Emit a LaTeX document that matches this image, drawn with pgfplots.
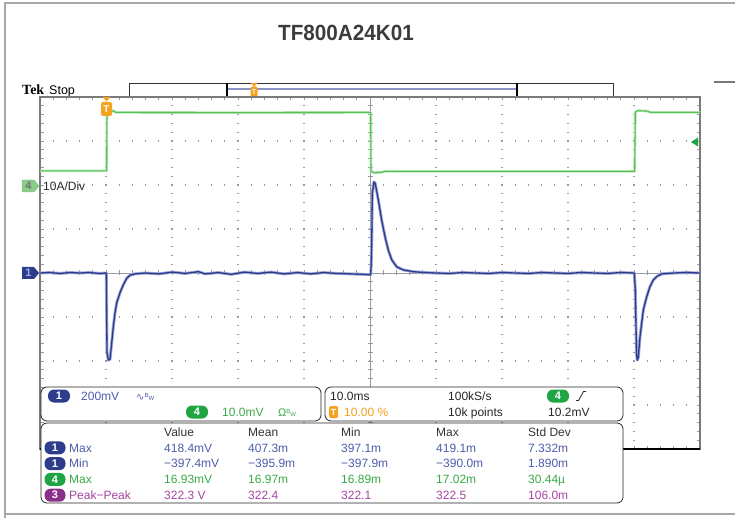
\documentclass[border=0pt]{standalone}
\usepackage{fontspec}
\setmainfont{Liberation Sans}
\newfontfamily\tekserif{Liberation Serif}
\newfontfamily\dejavu{DejaVu Sans}
\newfontfamily\titlefont{Liberation Sans}[FakeStretch=0.94]
\usepackage{pgfplots}
\usepackage{pgfplotstable}
\pgfplotsset{compat=1.18}

\definecolor{chone}{HTML}{2E3C8C}
\definecolor{chonetext}{HTML}{4F5DAA}
\definecolor{chfour}{HTML}{1FA544}
\definecolor{chfourtext}{HTML}{3AAA48}
\definecolor{chfourmark}{HTML}{8CCB8A}
\definecolor{chthree}{HTML}{8B2F8B}
\definecolor{chthreetext}{HTML}{A645A2}
\definecolor{trig}{HTML}{F6A21E}
\definecolor{bluetrace}{HTML}{2C3A8C}
\definecolor{bluehalo}{HTML}{A0AAD8}
\definecolor{greentrace}{HTML}{55C255}
\definecolor{greenhalo}{HTML}{B8E6B5}
\definecolor{gridgray}{HTML}{9A9A9A}
\definecolor{bordergray}{HTML}{7A7A7A}
\definecolor{framegray}{HTML}{A8A8A8}
\definecolor{titlegray}{HTML}{3C3C3C}
\definecolor{recblue}{HTML}{8A93C6}

% channel 1, divisions vs ms
\pgfplotstableread{
x y
0 0.00
1.5 0.01
3 -0.01
4.5 0.01
6 0.00
7.5 0.01
9 -0.01
10.05 0.00
10.15 -1.80
10.35 -1.98
10.61 -1.96
10.86 -1.59
11.11 -1.22
11.36 -0.91
11.62 -0.68
12.12 -0.45
12.62 -0.27
13.14 -0.12
13.64 -0.05
14.4 -0.02
16 0.00
18 -0.02
20 0.02
22 -0.01
24 0.03
25 -0.02
27 0.01
29 -0.03
31 0.02
33 -0.01
35 0.02
37 -0.02
39 0.01
41 -0.02
43 0.01
45 -0.01
47 -0.02
49 -0.03
50.1 -0.04
50.18 0.20
50.26 0.68
50.35 1.82
50.6 2.07
50.8 2.03
51.26 1.66
51.77 1.20
52.27 0.83
52.77 0.52
53.29 0.30
54.05 0.14
55.05 0.07
56.56 0.03
58.3 0.01
60 0.00
62 -0.01
64 0.01
66 0.00
68 -0.01
70 0.01
72 0.00
74 -0.01
76 0.01
78 0.00
80 -0.01
82 0.01
84 0.00
86 -0.01
88 0.01
90.05 0.00
90.2 -0.40
90.38 -1.85
90.5 -1.98
90.65 -1.92
90.91 -1.45
91.41 -0.84
91.92 -0.54
92.42 -0.31
92.92 -0.16
93.44 -0.08
94.2 -0.02
96 0.00
98 0.01
100 0.00
}\bluedata

% channel 4
\pgfplotstableread{
x y
0 2.32
10.1 2.32
10.15 3.66
10.5 3.69
11.2 3.68
11.5 3.65
30 3.645
50.1 3.65
50.15 2.31
50.6 2.28
51.8 2.29
52.3 2.31
90.1 2.31
90.2 3.66
90.6 3.69
92.0 3.68
92.5 3.65
100 3.65
}\greendata

\tikzset{
  pill/.style={rounded corners=6pt, minimum width=22pt, minimum height=13pt,
    inner sep=0pt, text=white, font=\fontsize{11}{11}\selectfont\bfseries},
  tt/.style={anchor=base west, inner sep=0pt, font=\fontsize{12}{12}\selectfont},
}

\begin{document}
\begin{tikzpicture}
\useasboundingbox (0,0) rectangle (735pt,517pt);
\clip (0,0) rectangle (735pt,517pt);

\begin{scope}[x=1pt,y=-1pt,yshift=517pt]
  % outer frame
  \draw[framegray, line width=1.5pt] (5,530) -- (5,3) -- (750,3);
  \draw[framegray, line width=1.5pt] (5,514) -- (750,514);
  % title
  \node[font=\titlefont\bfseries\fontsize{22}{22}\selectfont, text=titlegray] at (346,33) {TF800A24K01};
  % Tek Stop
  \node[anchor=base west, inner sep=0pt, font=\tekserif\bfseries\fontsize{14}{14}\selectfont] at (22,95) {Tek};
  \node[anchor=base west, inner sep=0pt, font=\fontsize{12.5}{12.5}\selectfont] at (49,95) {Stop};
  % record bar
  \draw[black!80, line width=0.9pt, fill=white] (129,83) rectangle (613,97);
  \draw[recblue, line width=1.6pt] (228,89) -- (516,89);
  \draw[black, line width=1.6pt] (227,83) -- (227,97) (517,83) -- (517,97);
  \fill[trig] (250.5,83) -- (257.5,83) -- (254,86.5) -- cycle;
  \fill[trig, rounded corners=1.5pt] (250.5,86.5) rectangle (257.5,97);
  \node[text=white, font=\bfseries\fontsize{7}{7}\selectfont, inner sep=0pt] at (254,92) {T};
  \draw[bordergray, line width=1.5pt] (714,82) -- (735,82);

  % graticule
  \foreach \k in {1,2,3,5,6,7}
    \draw[gridgray, line width=1.3pt, dash pattern=on 1.3pt off 11.9pt, dash phase=0.65pt]
      (40,97+44*\k) -- (700,97+44*\k);
  \foreach \k in {1,2,3,4,6,7,8,9}
    \draw[gridgray, line width=1.3pt, dash pattern=on 1.3pt off 7.5pt, dash phase=0.65pt]
      (40+66*\k,97) -- (40+66*\k,449);
  \draw[gridgray, line width=0.9pt] (40,273) -- (700,273) (370,97) -- (370,449);
  \foreach \i in {1,...,49} {
    \draw[gridgray, line width=0.8pt] (40+13.2*\i,270.5) -- (40+13.2*\i,275.5);
    \draw[gridgray, line width=0.8pt] (40+13.2*\i,97) -- (40+13.2*\i,100.5);
    \draw[gridgray, line width=0.8pt] (40+13.2*\i,449) -- (40+13.2*\i,445.5);
  }
  \foreach \j in {1,...,39} {
    \draw[gridgray, line width=0.8pt] (367.5,97+8.8*\j) -- (372.5,97+8.8*\j);
    \draw[gridgray, line width=0.8pt] (40,97+8.8*\j) -- (43.5,97+8.8*\j);
    \draw[gridgray, line width=0.8pt] (700,97+8.8*\j) -- (696.5,97+8.8*\j);
  }
  \draw[bordergray, line width=1.3pt] (40,97) rectangle (700,449);
  \draw[black, line width=2.2pt] (40,449) -- (700,449);
\end{scope}

\begin{axis}[at={(40pt,68pt)}, anchor=south west, scale only axis,
    width=660pt, height=352pt, xmin=0, xmax=100, ymin=-4, ymax=4,
    hide axis, clip=false]
  \addplot[greenhalo, line width=2.6pt, line join=round] table {\greendata};
  \addplot[greentrace, line width=1.1pt, line join=round] table {\greendata};
  \addplot[bluehalo, line width=3pt, line join=round] table {\bluedata};
  \addplot[bluetrace, line width=1.3pt, line join=round] table {\bluedata};
\end{axis}

\begin{scope}[x=1pt,y=-1pt,yshift=517pt]
  % channel markers
  \fill[fill=chfourmark, draw=chfourtext!70] (22,180) -- (34,180) -- (39,186) -- (34,192) -- (22,192) -- cycle;
  \node[text=black!55, font=\bfseries\fontsize{11}{11}\selectfont, inner sep=0pt] at (28.5,186) {4};
  \fill[chone] (22,267) -- (34,267) -- (39,273) -- (34,279) -- (22,279) -- cycle;
  \node[text=bluehalo, font=\bfseries\fontsize{11}{11}\selectfont, inner sep=0pt] at (28.5,273) {1};
  \node[tt, text=black!85] at (43,190.3) {10A/Div};
  % trigger marker
  \fill[trig] (102.5,97) -- (110.5,97) -- (106.5,101.5) -- cycle;
  \fill[trig, rounded corners=2pt] (101,102) rectangle (112,116);
  \node[text=white, font=\bfseries\fontsize{10}{10}\selectfont, inner sep=0pt] at (106.5,109) {T};
  \fill[chfour] (691,142) -- (698,137.5) -- (698,146.5) -- cycle;

  % info boxes
  \draw[black!85, line width=0.8pt, fill=white, rounded corners=6pt] (41,387) rectangle (321,421);
  \draw[black!85, line width=0.8pt, fill=white, rounded corners=6pt] (325,387) rectangle (623,421);
  \draw[black!85, line width=0.8pt, fill=white, rounded corners=6pt] (41,423) rectangle (623,503);

  \node[pill, fill=chone] at (59,396) {1};
  \node[tt, text=chonetext] at (81,400.3) {200mV};
  \node[anchor=base west, inner sep=0pt, text=chonetext] at (136,400.3)
    {{\dejavu\fontsize{10}{10}\selectfont ∿}\raisebox{2.5pt}{\fontsize{6}{6}\selectfont B}\raisebox{-0.5pt}{\fontsize{6}{6}\selectfont W}};
  \node[pill, fill=chfour] at (197,412) {4};
  \node[tt, text=chfourtext] at (222,416.3) {10.0mV};
  \node[anchor=base west, inner sep=0pt, text=chfourtext] at (278,416.3)
    {{\fontsize{11}{11}\selectfont Ω}\raisebox{2.5pt}{\fontsize{6}{6}\selectfont B}\raisebox{-0.5pt}{\fontsize{6}{6}\selectfont W}};

  \node[tt, text=black!85] at (330,400.3) {10.0ms};
  \node[tt, text=black!85] at (448,400.3) {100kS/s};
  \node[pill, fill=chfour] at (558,396) {4};
  \draw[black!85, line width=0.8pt] (576,400.5) -- (578.5,400.5) -- (583.5,391.5) -- (586,391.5);
  \fill[trig, rounded corners=1.5pt] (329,406) rectangle (338,418);
  \node[text=white, font=\bfseries\fontsize{9}{9}\selectfont, inner sep=0pt] at (333.5,412) {T};
  \node[tt, text=trig] at (344,416.3) {10.00 \%};
  \node[tt, text=black!85] at (448,416.3) {10k points};
  \node[tt, text=black!85] at (548,416.3) {10.2mV};

  % measurement table
  \foreach \cx/\hd in {164/Value,248/Mean,341/Min,436/Max,528/Std Dev}
    \node[tt, text=black!80] at (\cx,436.3) {\hd};

  \node[pill, fill=chone, minimum width=21pt] at (55,447.8) {1};
  \node[tt, text=chonetext] at (69,452.1) {Max};
  \foreach \cx/\v in {164/418.4mV,248/407.3m,341/397.1m,436/419.1m,528/7.332m}
    \node[tt, text=chonetext] at (\cx,452.1) {\v};

  \node[pill, fill=chone, minimum width=21pt] at (55,463.6) {1};
  \node[tt, text=chonetext] at (69,467.9) {Min};
  \foreach \cx/\v in {164/−397.4mV,248/−395.9m,341/−397.9m,436/−390.0m,528/1.890m}
    \node[tt, text=chonetext] at (\cx,467.9) {\v};

  \node[pill, fill=chfour, minimum width=21pt] at (55,479.4) {4};
  \node[tt, text=chfourtext] at (69,483.7) {Max};
  \foreach \cx/\v in {164/16.93mV,248/16.97m,341/16.89m,436/17.02m,528/30.44µ}
    \node[tt, text=chfourtext] at (\cx,483.7) {\v};

  \node[pill, fill=chthree, minimum width=21pt] at (55,495.2) {3};
  \node[tt, text=chthreetext] at (69,499.5) {Peak−Peak};
  \foreach \cx/\v in {164/322.3 V,248/322.4,341/322.1,436/322.5,528/106.0m}
    \node[tt, text=chthreetext] at (\cx,499.5) {\v};
\end{scope}
\end{tikzpicture}
\end{document}
